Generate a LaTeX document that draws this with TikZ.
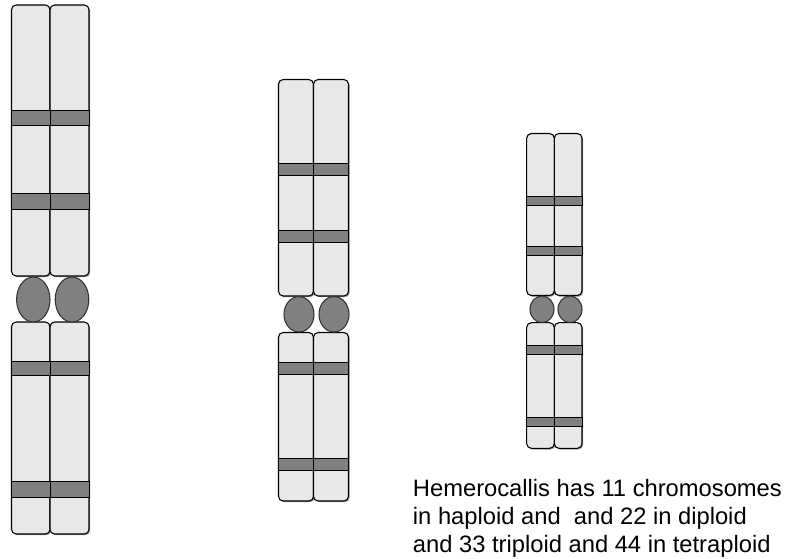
\documentclass[tikz,border=0pt]{standalone}
\usepackage{fontspec}
\setmainfont{Liberation Sans}
\usetikzlibrary{shadows}

\definecolor{armgray}{HTML}{E8E8E8}
\definecolor{bandgray}{HTML}{808080}

\tikzset{
    arm/.style={fill=armgray, draw=black, line width=0.8pt, rounded corners=3.5pt,
        drop shadow={shadow xshift=0.9pt, shadow yshift=-0.9pt, fill=black!40, opacity=1}},
    band/.style={fill=bandgray, draw=black, line width=0.75pt},
    centro/.style={fill=bandgray, draw=black!80, line width=0.8pt},
    caption/.style={anchor=base west, inner sep=0pt, font=\fontsize{17.8}{21}\selectfont}
}

\begin{document}
\begin{tikzpicture}[x=0.75pt, y=-0.75pt]
    \useasboundingbox (0,0) rectangle (789,558);

    % large chromosome
    \def\xl{11.5}; \def\xm{50}; \def\xr{89};
    \path[arm] (\xl,5) rectangle (\xm,276);
    \path[arm] (\xm,5) rectangle (\xr,276);
    \path[arm] (\xl,322) rectangle (\xm,534);
    \path[arm] (\xm,322) rectangle (\xr,534);
    \filldraw[band] (\xl,110) rectangle (\xm,125.5) (\xm,110) rectangle (\xr,125.5);
    \filldraw[band] (\xl,193.5) rectangle (\xm,209) (\xm,193.5) rectangle (\xr,209);
    \filldraw[band] (\xl,361) rectangle (\xm,375.5) (\xm,361) rectangle (\xr,375.5);
    \filldraw[band] (\xl,481.5) rectangle (\xm,497) (\xm,481.5) rectangle (\xr,497);
    \filldraw[centro] (33.3,299.5) ellipse [x radius=16.7, y radius=22.5];
    \filldraw[centro] (72,299.5) ellipse [x radius=16.8, y radius=22.5];

    % middle chromosome
    \def\xl{278.5}; \def\xm{313.5}; \def\xr{348.5};
    \path[arm] (\xl,79.5) rectangle (\xm,296);
    \path[arm] (\xm,79.5) rectangle (\xr,296);
    \path[arm] (\xl,332.5) rectangle (\xm,501);
    \path[arm] (\xm,332.5) rectangle (\xr,501);
    \filldraw[band] (\xl,163.5) rectangle (\xm,175.5) (\xm,163.5) rectangle (\xr,175.5);
    \filldraw[band] (\xl,230) rectangle (\xm,242.5) (\xm,230) rectangle (\xr,242.5);
    \filldraw[band] (\xl,362.5) rectangle (\xm,374.5) (\xm,362.5) rectangle (\xr,374.5);
    \filldraw[band] (\xl,458.5) rectangle (\xm,470.5) (\xm,458.5) rectangle (\xr,470.5);
    \filldraw[centro] (299,314.3) ellipse [x radius=15, y radius=17.7];
    \filldraw[centro] (334,314.3) ellipse [x radius=15, y radius=17.7];

    % small chromosome
    \def\xl{526.7}; \def\xm{554.3}; \def\xr{582};
    \path[arm] (\xl,133.5) rectangle (\xm,295.5);
    \path[arm] (\xm,133.5) rectangle (\xr,295.5);
    \path[arm] (\xl,322.7) rectangle (\xm,448.3);
    \path[arm] (\xm,322.7) rectangle (\xr,448.3);
    \filldraw[band] (\xl,196.7) rectangle (\xm,205.3) (\xm,196.7) rectangle (\xr,205.3);
    \filldraw[band] (\xl,246) rectangle (\xm,255.3) (\xm,246) rectangle (\xr,255.3);
    \filldraw[band] (\xl,345.3) rectangle (\xm,354) (\xm,345.3) rectangle (\xr,354);
    \filldraw[band] (\xl,417.3) rectangle (\xm,426.3) (\xm,417.3) rectangle (\xr,426.3);
    \filldraw[centro] (542,309.3) ellipse [x radius=12, y radius=13.3];
    \filldraw[centro] (570,309.3) ellipse [x radius=12, y radius=13.3];

    \node[caption] (l1) at (412.7,496.7) {Hemerocallis has 11 chromosomes};
    \node[caption] (l2) at (412.7,524.4) {in haploid and\ \ and 22 in diploid};
    \node[caption] (l3) at (412.7,552.1) {and 33 triploid and 44 in tetraploid};

\end{tikzpicture}
\end{document}
